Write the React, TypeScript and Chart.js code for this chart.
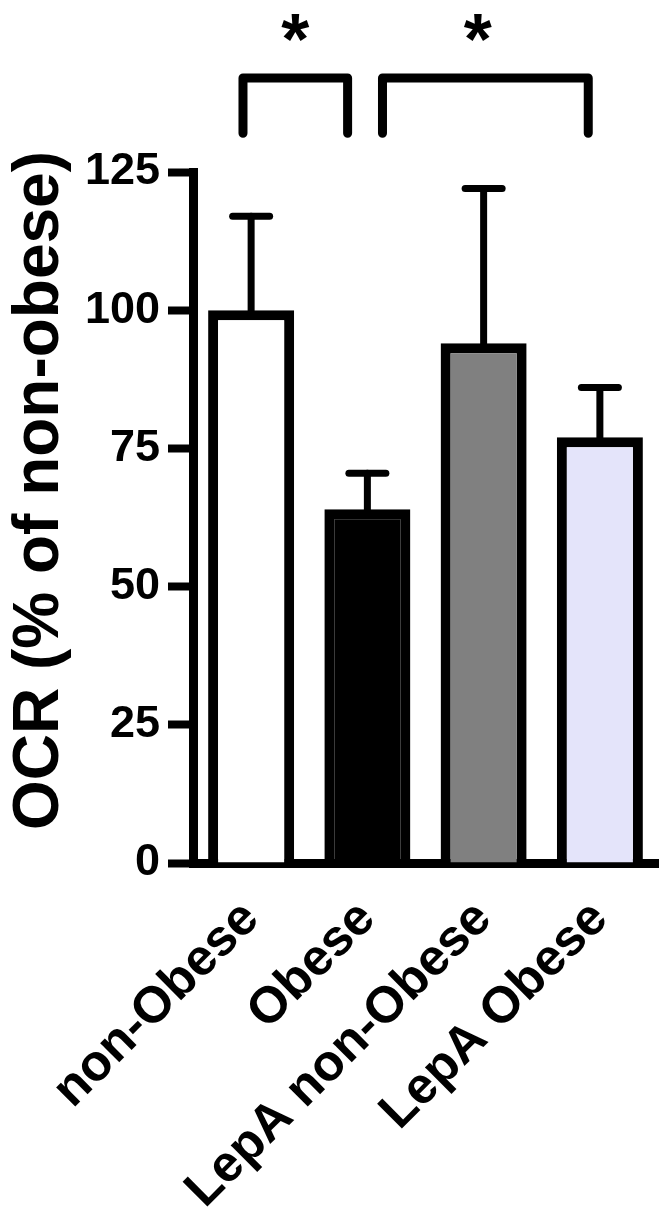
import React, { useEffect, useRef } from "react";
import { Chart, registerables } from "chart.js";

Chart.register(...registerables);

const categories = ["non-Obese", "Obese", "LepA non-Obese", "LepA Obese"];
const means = [100, 64, 94, 77];
const sem = [17, 6.5, 28, 9];
const barColors = ["#ffffff", "#000000", "#808080", "#e4e4fa"];
const yMin = 0;
const yMax = 125;
const yStep = 25;
const yTitle = "OCR (% of non-obese)";
// significance brackets (x in category index units, y in value units)
const bracketFrom = [-0.07, 1.13];
const bracketTo = [0.83, 2.9];
const bracketTop = 142;
const bracketLeg = 132;
const bracketStarX = [0.38, 1.95];
const bracketLabels = ["*", "*"];

const FONT = "'Liberation Sans', Arial, Helvetica, sans-serif";

const overlay = {
  id: "overlay",
  afterDatasetsDraw(chart: any) {
    const { ctx, scales } = chart;
    const x = scales.x;
    const y = scales.y;
    ctx.save();
    ctx.strokeStyle = "#000";
    ctx.lineCap = "round";
    ctx.lineJoin = "round";
    // error bars
    ctx.lineWidth = 7;
    const meta = chart.getDatasetMeta(0);
    meta.data.forEach((bar: any, i: number) => {
      const cx = bar.x;
      const top = y.getPixelForValue(means[i]);
      const hi = y.getPixelForValue(means[i] + sem[i]);
      ctx.beginPath();
      ctx.moveTo(cx, top);
      ctx.lineTo(cx, hi);
      ctx.stroke();
      ctx.beginPath();
      ctx.moveTo(cx - 18.5, hi);
      ctx.lineTo(cx + 18.5, hi);
      ctx.stroke();
    });
    // brackets
    ctx.lineWidth = 9;
    const yt = y.getPixelForValue(bracketTop);
    const yl = y.getPixelForValue(bracketLeg);
    bracketFrom.forEach((f, i) => {
      const x1 = x.getPixelForValue(f);
      const x2 = x.getPixelForValue(bracketTo[i]);
      ctx.beginPath();
      ctx.moveTo(x1, yl);
      ctx.lineTo(x1, yt);
      ctx.lineTo(x2, yt);
      ctx.lineTo(x2, yl);
      ctx.stroke();
      ctx.fillStyle = "#000";
      ctx.font = `bold 72px ${FONT}`;
      ctx.textAlign = "center";
      ctx.textBaseline = "alphabetic";
      ctx.fillText(bracketLabels[i], x.getPixelForValue(bracketStarX[i]), 64);
    });
    // y-axis title (positioned slightly above axis centre, as in the original)
    ctx.translate(58, (y.top + y.bottom) / 2 - 27);
    ctx.rotate(-Math.PI / 2);
    ctx.font = `bold 64px ${FONT}`;
    ctx.textAlign = "center";
    ctx.textBaseline = "alphabetic";
    ctx.fillStyle = "#000";
    ctx.fillText(yTitle, 0, 0);
    ctx.restore();
  },
};

export default function App() {
  const ref = useRef<HTMLCanvasElement>(null);
  useEffect(() => {
    document.body.style.margin = "0";
    const chart = new Chart(ref.current as HTMLCanvasElement, {
      type: "bar",
      data: {
        labels: categories,
        datasets: [
          {
            data: means,
            backgroundColor: barColors,
            borderColor: "#000",
            borderWidth: 10,
            borderSkipped: "start",
            categoryPercentage: 1,
            barPercentage: 0.74,
          },
        ],
      },
      options: {
        responsive: false,
        animation: false,
        devicePixelRatio: 1,
        layout: { padding: { top: 172, right: 9, left: 0, bottom: 0 } },
        plugins: { legend: { display: false }, tooltip: { enabled: false } },
        scales: {
          x: {
            grid: { display: false },
            border: { display: true, color: "#000", width: 9 },
            ticks: {
              color: "#000",
              font: { family: FONT, size: 51, weight: "bold" },
              maxRotation: 45,
              minRotation: 45,
              autoSkip: false,
              padding: 18,
            },
            afterFit(scale: any) {
              scale.height = 363;
            },
          },
          y: {
            min: yMin,
            max: yMax,
            ticks: {
              stepSize: yStep,
              color: "#000",
              font: { family: FONT, size: 45, weight: "bold" },
              padding: 8,
            },
            grid: {
              drawOnChartArea: false,
              drawTicks: true,
              tickLength: 25,
              tickWidth: 8,
              tickColor: "#000",
            },
            border: { display: true, color: "#000", width: 9 },
            title: { display: false, text: yTitle },
            afterFit(scale: any) {
              scale.width = 193;
            },
          },
        },
      },
      plugins: [overlay],
    });
    return () => chart.destroy();
  }, []);
  return (
    <div style={{ width: 667, height: 1226, background: "#fff" }}>
      <canvas ref={ref} width={667} height={1226} style={{ display: "block" }} />
    </div>
  );
}
